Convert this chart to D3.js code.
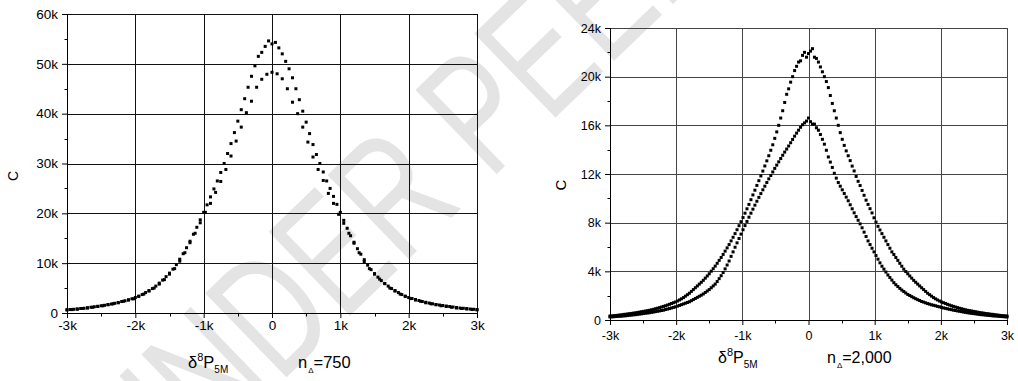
<!DOCTYPE html>
<html>
<head>
<meta charset="utf-8">
<script src="https://cdn.jsdelivr.net/npm/d3@7"></script>
<style>
  body { margin: 0; background: #fff; }
  svg { font-family: "Liberation Sans", Arial, sans-serif; }
</style>
</head>
<body>
<svg id="chart" width="1018" height="381"></svg>
<script>
// all counts in thousands (k); x in thousands too
// bins start at -3k, left panel n = 750, right panel n = 2,000
var binStart = -3;

// left panel, upper series (step 0.05k)
var leftUpperStep = 0.05;
var leftUpper = [
  0.65,0.7,0.75,0.8,0.9,0.95,1.05,1.15,1.25,1.35,
  1.45,1.55,1.7,1.8,1.95,2.1,2.3,2.45,2.65,2.85,
  3.1,3.4,3.7,4.1,4.5,4.9,5.4,6.0,6.6,7.3,
  8.0,8.8,9.7,10.8,11.9,13.1,14.4,15.8,17.2,18.7,
  20.2,21.7,23.3,24.9,26.5,28.2,30.0,32.0,34.0,36.2,
  38.5,40.8,43.0,45.3,47.5,49.6,51.5,52.3,53.5,54.6,
  54.0,
  54.3,53.2,52.0,50.5,49.0,47.2,45.0,42.8,40.5,38.3,
  36.0,33.8,31.8,30.0,28.3,26.5,25.0,23.4,21.8,20.2,
  18.6,17.0,15.5,14.2,12.9,11.8,10.7,9.6,8.7,7.9,
  7.2,6.5,5.9,5.4,4.9,4.5,4.1,3.7,3.4,3.1,
  2.9,2.7,2.5,2.3,2.15,2.0,1.85,1.7,1.6,1.5,
  1.4,1.3,1.2,1.1,1.0,0.95,0.9,0.8,0.75,0.7
];

// left panel, lower series (step 0.075k)
var leftLowerStep = 0.075;
var leftLower = [
  0.62,0.68,0.78,0.9,1.0,1.15,1.3,1.45,1.65,1.85,
  2.05,2.35,2.6,2.85,3.3,3.8,4.4,5.0,5.8,6.7,
  7.8,8.9,10.4,12.1,14.1,16.0,18.1,20.2,22.0,24.2,
  26.4,28.8,31.5,34.5,37.3,40.2,42.5,45.3,46.9,47.9,
  48.3,
  48.0,47.0,45.0,42.3,40.0,37.3,34.3,31.3,28.8,26.6,
  24.0,22.0,19.8,18.0,16.0,14.0,12.1,10.3,8.9,7.8,
  6.8,5.9,5.0,4.4,3.8,3.3,2.9,2.6,2.35,2.05,
  1.85,1.65,1.45,1.3,1.15,1.0,0.9,0.8,0.7,0.62
];

// right panel, upper series (step 0.03k)
var rightUpperStep = 0.03;
var rightUpper = [
  0.33,0.34,0.36,0.37,0.39,0.41,0.43,0.46,0.47,0.5,
  0.52,0.54,0.57,0.59,0.62,0.65,0.68,0.71,0.74,0.77,
  0.8,0.84,0.88,0.93,0.97,1.02,1.07,1.12,1.17,1.23,
  1.29,1.36,1.42,1.48,1.56,1.65,1.74,1.84,1.96,2.08,
  2.2,2.35,2.5,2.65,2.8,2.95,3.1,3.26,3.44,3.62,
  3.8,4.01,4.22,4.43,4.66,4.9,5.14,5.39,5.66,5.93,
  6.2,6.5,6.8,7.1,7.42,7.75,8.08,8.42,8.78,9.14,
  9.5,9.89,10.28,10.67,11.06,11.45,11.84,12.24,12.66,13.08,
  13.5,13.95,14.4,14.93,15.46,16.0,16.6,17.2,17.88,18.55,
  19.0,19.55,20.0,20.5,20.85,21.2,21.3,21.75,22.0,21.6,
  21.9,
  22.1,22.3,21.6,21.5,21.2,20.8,20.4,20.0,19.6,19.1,
  18.45,17.8,17.2,16.6,16.0,15.4,14.85,14.35,13.9,13.5,
  13.1,12.65,12.25,11.8,11.4,11.05,10.65,10.25,9.85,9.5,
  9.15,8.8,8.4,8.05,7.7,7.4,7.1,6.8,6.5,6.2,
  5.9,5.6,5.38,5.14,4.9,4.66,4.42,4.18,3.98,3.8,
  3.62,3.44,3.26,3.1,2.95,2.8,2.65,2.5,2.35,2.2,
  2.08,1.96,1.84,1.74,1.65,1.56,1.48,1.42,1.36,1.29,
  1.23,1.17,1.12,1.07,1.02,0.97,0.93,0.88,0.84,0.8,
  0.77,0.74,0.71,0.68,0.65,0.62,0.59,0.57,0.54,0.52,
  0.5,0.47,0.46,0.43,0.41,0.39,0.37,0.36,0.34,0.33
];

// right panel, lower series (step 0.03k)
var rightLowerStep = 0.03;
var rightLower = [
  0.25,0.26,0.27,0.29,0.3,0.31,0.32,0.34,0.35,0.37,
  0.39,0.41,0.43,0.44,0.47,0.49,0.51,0.54,0.56,0.58,
  0.6,0.63,0.66,0.69,0.72,0.75,0.78,0.81,0.86,0.9,
  0.94,0.99,1.04,1.08,1.14,1.2,1.26,1.32,1.38,1.44,
  1.5,1.59,1.68,1.77,1.86,1.95,2.04,2.14,2.26,2.38,
  2.5,2.65,2.8,2.95,3.16,3.4,3.64,3.9,4.2,4.52,
  4.85,5.23,5.6,5.98,6.34,6.7,7.06,7.42,7.76,8.1,
  8.45,8.78,9.11,9.44,9.76,10.08,10.39,10.7,11.0,11.3,
  11.6,11.88,12.17,12.46,12.73,13.0,13.27,13.54,13.8,14.05,
  14.3,14.57,14.84,15.11,15.36,15.6,15.84,16.05,16.2,16.35,
  16.6,
  16.3,16.1,16.1,15.8,15.6,15.25,14.85,14.45,13.95,13.4,
  12.98,12.54,12.06,11.66,11.3,11.0,10.7,10.4,10.1,9.8,
  9.47,9.14,8.81,8.5,8.2,7.9,7.58,7.22,6.86,6.5,
  6.2,5.9,5.6,5.3,5.0,4.7,4.42,4.18,3.94,3.7,
  3.49,3.28,3.07,2.9,2.75,2.6,2.46,2.34,2.22,2.1,
  2.01,1.92,1.83,1.75,1.67,1.6,1.52,1.47,1.41,1.35,
  1.3,1.25,1.21,1.17,1.12,1.08,1.04,0.99,0.96,0.92,
  0.88,0.85,0.81,0.78,0.75,0.72,0.69,0.66,0.63,0.6,
  0.58,0.55,0.53,0.51,0.49,0.46,0.44,0.43,0.41,0.39,
  0.37,0.36,0.34,0.33,0.32,0.3,0.29,0.28,0.26,0.25
];

var xTicks = [-3, -2, -1, 0, 1, 2, 3];
var xMinor = [-2.5, -1.5, -0.5, 0.5, 1.5, 2.5];
var leftYTicks = [0, 10, 20, 30, 40, 50, 60];
var leftYMinor = [5, 15, 25, 35, 45, 55];
var rightYTicks = [0, 4, 8, 12, 16, 20, 24];
var rightYMinor = [2, 6, 10, 14, 18, 22];
var nLabels = ["750", "2,000"];

var kFormat = function(d) { return d === 0 ? "0" : d + "k"; };

var svg = d3.select("#chart");

// watermark behind everything
svg.append("text")
  .attr("transform", "translate(152,507) rotate(-44) scale(0.72,1)")
  .style("font-size", "170px")
  .style("fill", "#e4e4e4")
  .text("UNDER PEER REVIEW");

function drawPanel(p) {
  var x = d3.scaleLinear().domain([-3, 3]).range([p.left, p.right]);
  var y = d3.scaleLinear().domain([0, p.yTicks[p.yTicks.length - 1]]).range([p.bottom, p.top]);
  var g = svg.append("g");
  var px = function(v) { return Math.round(v) + 0.5; };

  // grid lines (top and right frame come from the last ticks)
  g.append("g").selectAll("line").data(xTicks).join("line")
    .attr("x1", d => px(x(d))).attr("x2", d => px(x(d)))
    .attr("y1", p.top).attr("y2", p.bottom)
    .attr("stroke", p.grid);
  g.append("g").selectAll("line").data(p.yTicks).join("line")
    .attr("x1", p.left).attr("x2", p.right)
    .attr("y1", d => px(y(d))).attr("y2", d => px(y(d)))
    .attr("stroke", p.grid);

  // minor ticks
  g.append("g").selectAll("line").data(xMinor).join("line")
    .attr("x1", d => px(x(d))).attr("x2", d => px(x(d)))
    .attr("y1", px(p.bottom)).attr("y2", px(p.bottom) + 3)
    .attr("stroke", "#000");
  g.append("g").selectAll("line").data(p.yMinor).join("line")
    .attr("x1", px(p.left) - 3).attr("x2", px(p.left))
    .attr("y1", d => px(y(d))).attr("y2", d => px(y(d)))
    .attr("stroke", "#000");

  var xAxis = d3.axisBottom(x).tickValues(xTicks).tickSize(5)
    .tickPadding(p.xPad).tickFormat(kFormat);
  var yAxis = d3.axisLeft(y).tickValues(p.yTicks).tickSize(5)
    .tickPadding(4).tickFormat(kFormat);

  g.append("g").attr("transform", "translate(0," + Math.round(p.bottom) + ")")
    .call(xAxis)
    .attr("font-family", "Liberation Sans, Arial, sans-serif")
    .attr("font-size", p.tickSize)
    .call(a => a.select(".domain").attr("d", "M" + p.left + ",0.5H" + p.right))
    .selectAll("text").attr("fill", "#000");
  g.append("g").attr("transform", "translate(" + Math.round(p.left) + ",0)")
    .call(yAxis)
    .attr("font-family", "Liberation Sans, Arial, sans-serif")
    .attr("font-size", p.tickSize)
    .call(a => a.select(".domain").attr("d", "M0.5," + p.top + "V" + p.bottom))
    .selectAll("text").attr("fill", "#000");

  // points
  p.series.forEach(function(s) {
    g.append("g").selectAll("rect").data(s.values).join("rect")
      .attr("x", (d, i) => x(binStart + i * s.step) - 1.5)
      .attr("y", d => y(d) - 1.5)
      .attr("width", 3).attr("height", 3)
      .attr("fill", "#000");
  });

  // y title
  g.append("text")
    .attr("transform", "translate(" + p.cX + "," + p.cY + ") rotate(-90)")
    .attr("text-anchor", "middle")
    .attr("dy", "0.35em")
    .style("font-size", p.cSize + "px")
    .text("C");

  // x title
  var t = g.append("text").attr("x", p.titleX).attr("y", p.titleY)
    .style("font-size", p.titleSize + "px");
  t.append("tspan").text("\u03b4");
  t.append("tspan").attr("dy", -7).style("font-size", "11px").text("8");
  t.append("tspan").attr("dy", 7).text("P");
  t.append("tspan").attr("dy", 5).style("font-size", "10px").text("5M");

  var n = g.append("text").attr("x", p.nX).attr("y", p.titleY)
    .style("font-size", p.titleSize + "px");
  n.append("tspan").text("n");
  n.append("tspan").attr("dx", 1).attr("dy", 5).style("font-size", "8px").text("\u0394");
  n.append("tspan").attr("dy", -5).text("=" + p.nLabel);
}

drawPanel({
  left: 67, right: 477, top: 14, bottom: 313,
  yTicks: leftYTicks, yMinor: leftYMinor,
  grid: "#111", tickSize: 13.5, xPad: 2,
  cX: 13, cY: 176, cSize: 14,
  titleX: 188, nX: 298, titleY: 368, titleSize: 16.5, nLabel: nLabels[0],
  series: [
    { values: leftUpper, step: leftUpperStep },
    { values: leftLower, step: leftLowerStep }
  ]
});

drawPanel({
  left: 610, right: 1007, top: 28, bottom: 320,
  yTicks: rightYTicks, yMinor: rightYMinor,
  grid: "#444", tickSize: 12.5, xPad: 6,
  cX: 561, cY: 185, cSize: 15,
  titleX: 718, nX: 827, titleY: 363, titleSize: 16, nLabel: nLabels[1],
  series: [
    { values: rightUpper, step: rightUpperStep },
    { values: rightLower, step: rightLowerStep }
  ]
});
</script>
</body>
</html>
